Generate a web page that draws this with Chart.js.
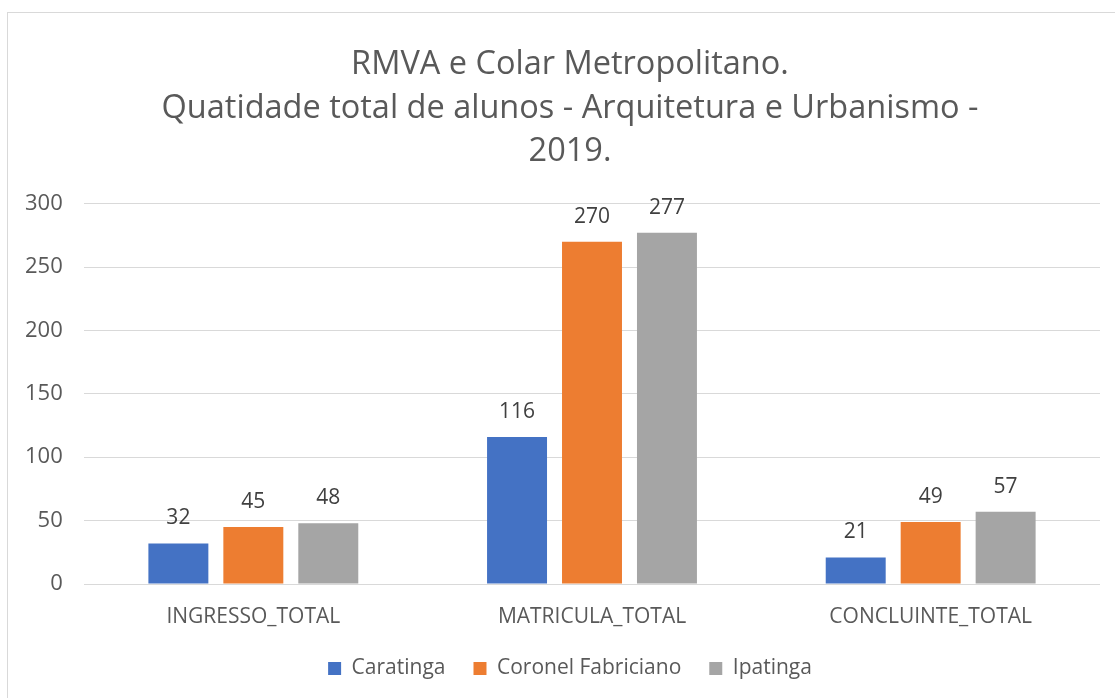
<!DOCTYPE html>
<html>
<head>
<meta charset="utf-8">
<script src="https://cdn.jsdelivr.net/npm/chart.js@4/dist/chart.umd.min.js"></script>
<style>
html,body{margin:0;padding:0;background:#fff;overflow:hidden;width:1115px;height:698px;}
#box{position:absolute;left:7px;top:12px;width:1124px;height:720px;border:1px solid #d9d9d9;box-sizing:border-box;}
#wrap{position:absolute;left:0px;top:0px;width:1122px;height:676px;}
</style>
</head>
<body>
<div id="box"><div id="wrap"><canvas id="c"></canvas></div></div>
<script>
const titleLines = ["RMVA e Colar Metropolitano.", "Quatidade total de alunos - Arquitetura e Urbanismo -", "2019."];
const categories = ["INGRESSO_TOTAL", "MATRICULA_TOTAL", "CONCLUINTE_TOTAL"];
const seriesNames = ["Caratinga", "Coronel Fabriciano", "Ipatinga"];
const caratinga = [32, 116, 21];
const coronelFabriciano = [45, 270, 49];
const ipatinga = [48, 277, 57];
const yTicks = [0, 50, 100, 150, 200, 250, 300];

const colors = ["#4472C4", "#ED7D31", "#A5A5A5"];
const FONT = "'Open Sans', 'Noto Sans', sans-serif";

const valueLabels = {
  id: 'valueLabels',
  afterDatasetsDraw(chart) {
    const ctx = chart.ctx;
    ctx.save();
    ctx.font = "21px " + FONT;
    ctx.fillStyle = "#404040";
    ctx.textAlign = "center";
    ctx.textBaseline = "middle";
    chart.data.datasets.forEach((ds, i) => {
      chart.getDatasetMeta(i).data.forEach((bar, j) => {
        ctx.fillText(String(ds.data[j]), bar.x, bar.y - 25);
      });
    });
    ctx.restore();
  }
};

new Chart(document.getElementById('c'), {
  type: 'bar',
  data: {
    labels: categories,
    datasets: [
      {label: seriesNames[0], data: caratinga, backgroundColor: colors[0]},
      {label: seriesNames[1], data: coronelFabriciano, backgroundColor: colors[1]},
      {label: seriesNames[2], data: ipatinga, backgroundColor: colors[2]}
    ]
  },
  options: {
    responsive: true,
    maintainAspectRatio: false,
    animation: false,
    datasets: {bar: {categoryPercentage: 0.664, barPercentage: 0.8}},
    layout: {padding: {left: 32, right: 30, top: 0, bottom: 0}},
    plugins: {
      title: {
        display: true,
        text: titleLines,
        color: "#595959",
        font: {family: FONT, size: 32.5, weight: 'normal', lineHeight: 1.34},
        padding: {top: 30, bottom: 30}
      },
      legend: {
        position: 'bottom',
        labels: {
          color: "#595959",
          font: {family: FONT, size: 21},
          boxWidth: 13, boxHeight: 13,
          padding: 28
        }
      },
      tooltip: {enabled: false}
    },
    scales: {
      x: {
        grid: {display: false, drawTicks: false},
        border: {display: false},
        ticks: {color: "#595959", font: {family: FONT, size: 21}, padding: 20},
        afterFit(axis) { axis.height = 46; }
      },
      y: {
        min: 0, max: 300,
        afterBuildTicks(axis) { axis.ticks = yTicks.map(v => ({value: v})); },
        afterFit(axis) { axis.width = 44; },
        grid: {color: "#d9d9d9", drawTicks: false},
        border: {display: false},
        ticks: {color: "#595959", font: {family: FONT, size: 22}, mirror: true, crossAlign: 'far', padding: -59}
      }
    }
  },
  plugins: [valueLabels]
});
</script>
</body>
</html>
